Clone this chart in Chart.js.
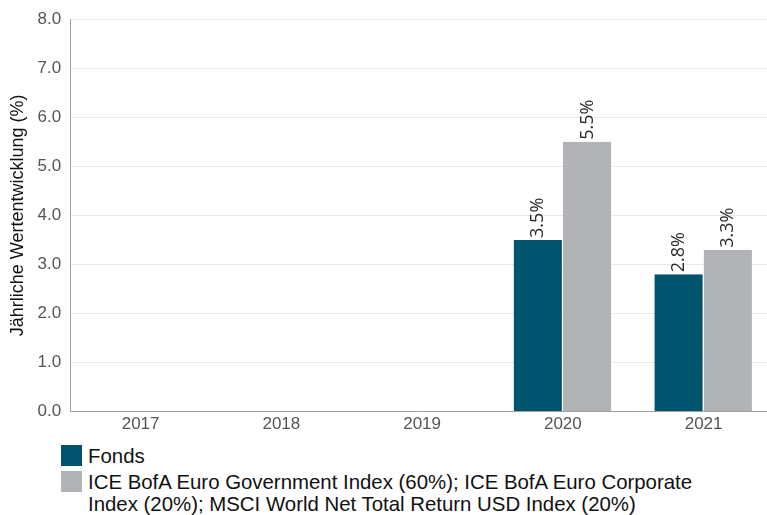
<!DOCTYPE html>
<html>
<head>
<meta charset="utf-8">
<script src="https://cdn.jsdelivr.net/npm/chart.js@4"></script>
<style>
  body { margin: 0; background: #fff; font-family: "Liberation Sans", Arial, sans-serif; overflow: hidden; }
  #wrap { width: 767px; height: 438px; position: relative; overflow: hidden; }
  #inner { width: 775px; height: 438px; position: absolute; left: 0; top: 0; }
  #legend { list-style: none; margin: 0; padding: 0; position: absolute; left: 61px; top: 445px; }
  #legend li { display: flex; align-items: flex-start; font-size: 20.4px; line-height: 22px; color: #111; margin-bottom: 4px; }
  #legend .box { width: 21px; height: 21px; flex: none; margin-right: 6px; }
  #legend .txt { max-width: 630px; }
</style>
</head>
<body>
<div id="wrap"><div id="inner"><canvas id="graph"></canvas></div></div>
<ul id="legend"></ul>
<script>
const years = ['2017', '2018', '2019', '2020', '2021'];
const fonds = [null, null, null, 3.5, 2.8];
const benchmark = [null, null, null, 5.5, 3.3];
const seriesNames = ['Fonds', 'ICE BofA Euro Government Index (60%); ICE BofA Euro Corporate Index (20%); MSCI World Net Total Return USD Index (20%)'];
const seriesColors = ['#00546e', '#b1b3b6'];

// labels over the bars, turned upright
const barLabels = {
    id: 'barLabels',
    afterDatasetsDraw(chart) {
        const ctx = chart.ctx;
        ctx.save();
        ctx.font = '18px "Open Sans", sans-serif';
        ctx.fillStyle = '#2a2a2a';
        ctx.textAlign = 'left';
        ctx.textBaseline = 'middle';
        chart.data.datasets.forEach((ds, i) => {
            chart.getDatasetMeta(i).data.forEach((bar, j) => {
                if (ds.data[j] == null) return;
                ctx.save();
                ctx.translate(bar.x, bar.y - 2);
                ctx.rotate(-Math.PI / 2);
                ctx.fillText(ds.data[j].toFixed(1) + '%', 0, 0);
                ctx.restore();
            });
        });
        ctx.restore();
    }
};

new Chart(document.querySelector('#graph'), {
    type: 'bar',
    data: {
        labels: years,
        datasets: [
            { label: seriesNames[0], data: fonds, backgroundColor: seriesColors[0] },
            { label: seriesNames[1], data: benchmark, backgroundColor: seriesColors[1] }
        ]
    },
    options: {
        responsive: true,
        maintainAspectRatio: false,
        animation: false,
        layout: { padding: { top: 8, right: 1, left: 4, bottom: 0 } },
        datasets: {
            bar: { categoryPercentage: 0.70, barPercentage: 1.0, borderWidth: { left: 0, right: 1, top: 0, bottom: 0 }, borderColor: '#fff' }
        },
        scales: {
            x: {
                grid: { display: false, drawTicks: false },
                border: { color: '#a0a0a0' },
                ticks: { color: '#555', font: { family: '"Liberation Sans", Arial', size: 17 }, padding: 3 }
            },
            y: {
                min: 0,
                max: 8,
                ticks: {
                    stepSize: 1,
                    color: '#555',
                    padding: 9,
                    font: { family: '"Liberation Sans", Arial', size: 17 },
                    callback: v => v.toFixed(1)
                },
                grid: { color: '#e8e8e8', drawTicks: false },
                border: { color: '#a0a0a0' },
                title: {
                    display: true,
                    text: 'Jährliche Wertentwicklung (%)',
                    color: '#111',
                    font: { family: '"Liberation Sans", Arial', size: 18 },
                    padding: { top: 3, bottom: 0 }
                }
            }
        },
        plugins: {
            legend: { display: false },
            tooltip: { enabled: false }
        }
    },
    plugins: [barLabels]
});

const legend = document.querySelector('#legend');
seriesNames.forEach((name, i) => {
    legend.innerHTML += `<li><span class="box" style="background:${seriesColors[i]}"></span><span class="txt">${name}</span></li>`;
});
</script>
</body>
</html>
